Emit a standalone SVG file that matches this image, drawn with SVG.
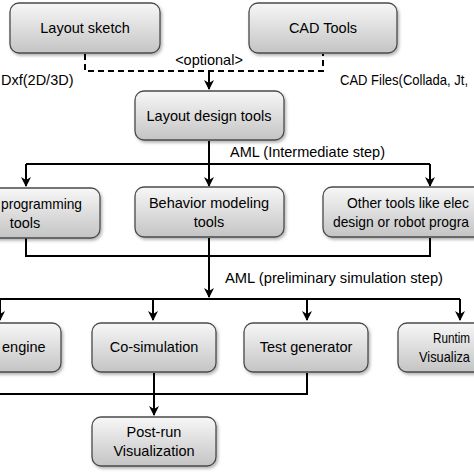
<svg xmlns="http://www.w3.org/2000/svg" width="474" height="474" viewBox="0 0 474 474">
<defs>
<linearGradient id="g" x1="0" y1="0" x2="0" y2="1">
<stop offset="0" stop-color="#f7f7f7"/>
<stop offset="1" stop-color="#c4c4c4"/>
</linearGradient>
<filter id="sh" x="-10%" y="-10%" width="130%" height="140%">
<feDropShadow dx="1.5" dy="2" stdDeviation="1.5" flood-color="#000" flood-opacity="0.3"/>
</filter>
<marker id="ar" viewBox="0 0 10 10" refX="9" refY="5" markerWidth="5" markerHeight="5" orient="auto" markerUnits="strokeWidth">
<path d="M0,0 L10,5 L0,10 L3,5 z" fill="#000"/>
</marker>
</defs>
<style>
.box{fill:url(#g);stroke:#4a4a4a;stroke-width:1.3;filter:url(#sh)}
.t{font-family:"Liberation Sans",Arial,sans-serif;font-size:14.5px;fill:#000}
.m{text-anchor:middle}
.ln{fill:none;stroke:#000;stroke-width:2}
.ds{fill:none;stroke:#000;stroke-width:2;stroke-dasharray:6,4}
</style>
<rect width="474" height="474" fill="#fff"/>
<g id="connectors">
<path class="ds" d="M85,54 V71 H323 V54"/>
<path class="ln" d="M209,71 V89" marker-end="url(#ar)"/>
<path class="ln" d="M209,141 V164"/>
<path class="ln" d="M26,164 H430"/>
<path class="ln" d="M26,164 V186" marker-end="url(#ar)"/>
<path class="ln" d="M209,164 V186" marker-end="url(#ar)"/>
<path class="ln" d="M430,164 V186" marker-end="url(#ar)"/>
<path class="ln" d="M26,238 V256 H430 V238"/>
<path class="ln" d="M209,238 V297" marker-end="url(#ar)"/>
<path class="ln" d="M-5,299 H460"/>
<path class="ln" d="M0,299 V320" marker-end="url(#ar)"/>
<path class="ln" d="M153,299 V320" marker-end="url(#ar)"/>
<path class="ln" d="M307,299 V320" marker-end="url(#ar)"/>
<path class="ln" d="M460,299 V320" marker-end="url(#ar)"/>
<path class="ln" d="M-5,394 H307 V373"/>
<path class="ln" d="M154,373 V415" marker-end="url(#ar)"/>
</g>
<g id="labels">
<text class="t m" x="209" y="65">&lt;optional&gt;</text>
<text class="t" x="1" y="85">Dxf(2D/3D)</text>
<text class="t" x="340" y="85" textLength="128" lengthAdjust="spacingAndGlyphs">CAD Files(Collada, Jt,</text>
<text class="t" x="230" y="157">AML (Intermediate step)</text>
<text class="t" x="225" y="283" textLength="218" lengthAdjust="spacingAndGlyphs">AML (preliminary simulation step)</text>
</g>
<g id="layout-sketch">
<rect class="box" x="10" y="3" width="150" height="50" rx="9"/>
<text class="t m" x="85" y="33">Layout sketch</text>
</g>
<g id="cad-tools">
<rect class="box" x="249" y="3" width="148" height="50" rx="9"/>
<text class="t m" x="323" y="33">CAD Tools</text>
</g>
<g id="layout-design-tools">
<rect class="box" x="135" y="91" width="149" height="49" rx="9"/>
<text class="t m" x="209" y="121">Layout design tools</text>
</g>
<g id="programming-tools">
<rect class="box" x="-50" y="188" width="150" height="50" rx="9"/>
<text class="t" x="1" y="209" textLength="81" lengthAdjust="spacingAndGlyphs">programming</text>
<text class="t m" x="25" y="228">tools</text>
</g>
<g id="behavior-modeling-tools">
<rect class="box" x="135" y="187" width="149" height="50" rx="9"/>
<text class="t m" x="209" y="208">Behavior modeling</text>
<text class="t m" x="209" y="227">tools</text>
</g>
<g id="other-tools">
<rect class="box" x="323" y="187" width="170" height="50" rx="9"/>
<text class="t" x="347" y="208" textLength="122" lengthAdjust="spacingAndGlyphs">Other tools like elec</text>
<text class="t" x="333" y="227" textLength="136" lengthAdjust="spacingAndGlyphs">design or robot progra</text>
</g>
<g id="engine">
<rect class="box" x="-60" y="323" width="121" height="49" rx="9"/>
<text class="t" x="2" y="352">engine</text>
</g>
<g id="co-simulation">
<rect class="box" x="92" y="323" width="124" height="49" rx="9"/>
<text class="t m" x="154" y="352">Co-simulation</text>
</g>
<g id="test-generator">
<rect class="box" x="244" y="323" width="124" height="49" rx="9"/>
<text class="t m" x="306" y="352">Test generator</text>
</g>
<g id="runtime-visualization">
<rect class="box" x="398" y="323" width="124" height="49" rx="9"/>
<text class="t" x="433" y="343" textLength="37" lengthAdjust="spacingAndGlyphs">Runtim</text>
<text class="t" x="419" y="362" textLength="51" lengthAdjust="spacingAndGlyphs">Visualiza</text>
</g>
<g id="post-run-visualization">
<rect class="box" x="92" y="417" width="124" height="49" rx="9"/>
<text class="t m" x="154" y="437">Post-run</text>
<text class="t m" x="154" y="456">Visualization</text>
</g>
</svg>
